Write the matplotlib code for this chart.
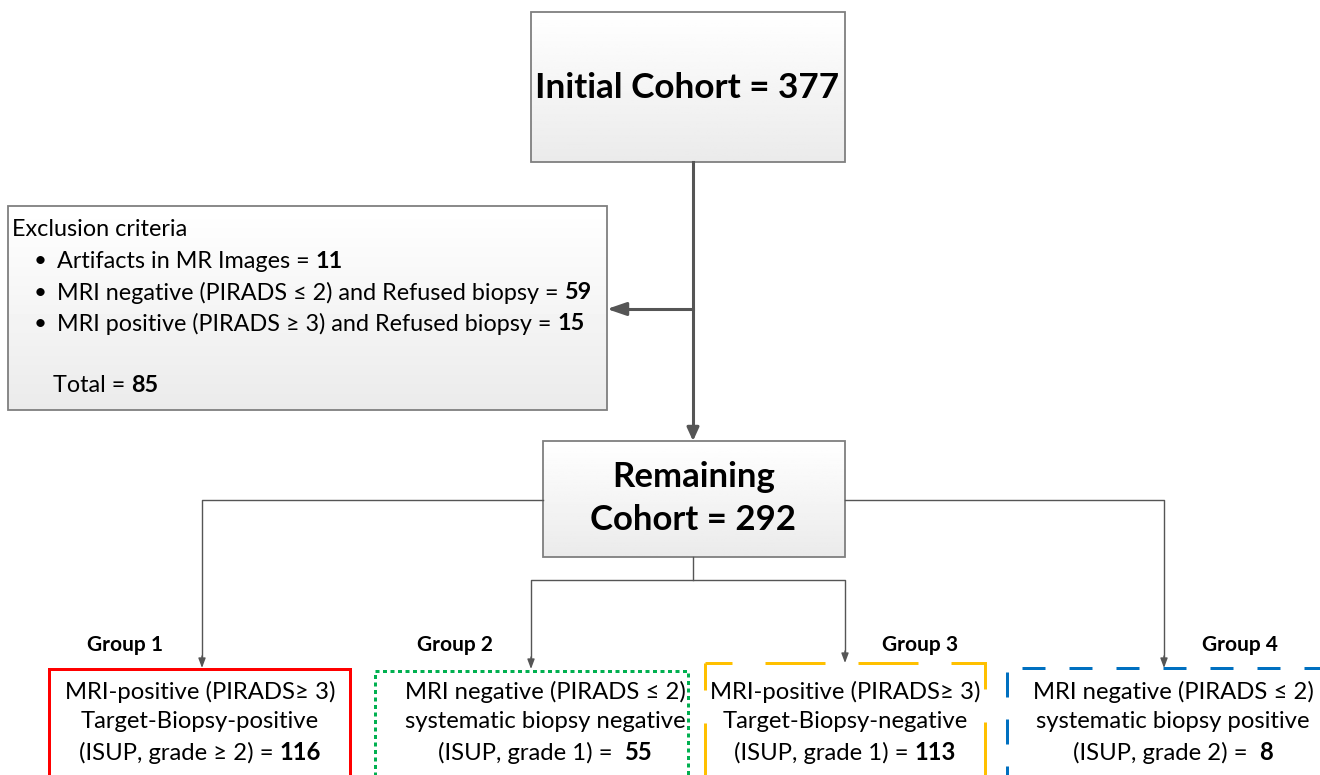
import matplotlib.pyplot as plt
import numpy as np
from matplotlib.patches import Rectangle, FancyArrowPatch

plt.rcParams['font.family'] = ['Lato', 'DejaVu Sans']
plt.rcParams['lines.scale_dashes'] = False

initial_n = 377
excluded_items = [("Artifacts in MR Images = ", 11),
                  ("MRI negative (PIRADS \u2264 2) and Refused biopsy = ", 59),
                  ("MRI positive (PIRADS \u2265 3) and Refused biopsy = ", 15)]
excluded_total = 85
remaining_n = 292
group_names = ["Group 1", "Group 2", "Group 3", "Group 4"]
group_lines = [
    ["MRI-positive (PIRADS\u2265 3)", "Target-Biopsy-positive", "(ISUP, grade \u2265 2) = "],
    ["MRI negative (PIRADS \u2264 2)", "systematic biopsy negative", "(ISUP, grade 1) =  "],
    ["MRI-positive (PIRADS\u2265 3)", "Target-Biopsy-negative", "(ISUP, grade 1) = "],
    ["MRI negative (PIRADS \u2264 2)", "systematic biopsy positive", "(ISUP, grade 2) =  "],
]
group_counts = [116, 55, 113, 8]
group_colors = ["#ff0000", "#00b050", "#ffc000", "#0070c0"]

LINE = "#555555"
PX = 72 / 100  # points per pixel


def gray_box(ax, x0, y0, x1, y1):
    grad = np.linspace(1.0, 0.92, 64).reshape(-1, 1)
    im = ax.imshow(grad, cmap="gray", vmin=0, vmax=1, extent=(x0, x1, y1, y0),
                   aspect="auto", zorder=1)
    rect = Rectangle((x0, y0), x1 - x0, y1 - y0, fill=False, ec="#7f7f7f", lw=1.3, zorder=2)
    ax.add_patch(rect)
    im.set_clip_path(rect)


def arrow(ax, p0, p1, lw=1.0, length=8, width=6):
    style = f"-|>,head_length={length * PX:.2f},head_width={width * PX / 2:.2f}"
    ax.add_patch(FancyArrowPatch(p0, p1, arrowstyle=style, color=LINE, lw=lw,
                                 mutation_scale=1, shrinkA=0, shrinkB=0, zorder=3))


def bold_tail(ax, x, y, pre, num, size, ha="center"):
    # normal text followed by a bold number on one line
    t1 = ax.text(0, y, pre, fontsize=size, va="center", ha="left", zorder=4)
    t2 = ax.text(0, y, str(num), fontsize=size, va="center", ha="left",
                 fontweight="bold", zorder=4)
    r = ax.figure.canvas.get_renderer()
    w1 = t1.get_window_extent(r).width
    w2 = t2.get_window_extent(r).width
    start = x - (w1 + w2) / 2 if ha == "center" else x
    t1.set_x(start)
    t2.set_x(start + w1)


def dash(on, off, offset):
    return (offset * PX, (on * PX, off * PX))


fig = plt.figure(figsize=(13.2, 7.75), dpi=100)
ax = fig.add_axes([0, 0, 1, 1])
ax.set_xlim(0, 1320)
ax.set_ylim(775, 0)
ax.axis("off")
fig.canvas.draw()

# initial cohort
gray_box(ax, 531, 12, 845, 162)
ax.text(687, 88, f"Initial Cohort = {initial_n}", fontsize=25.3, fontweight="bold",
        ha="center", va="center", zorder=4)

# exclusion box
gray_box(ax, 8, 206, 607, 410)
ax.text(12, 230, "Exclusion criteria", fontsize=16.8, va="center", zorder=4)
for i, (label, n) in enumerate(excluded_items):
    y = 261 + i * 31.5
    ax.text(40, y, "\u2022", fontsize=16, va="center", ha="center", zorder=4)
    bold_tail(ax, 57, y, label, n, 16.8, ha="left")
bold_tail(ax, 53, 385, "Total = ", excluded_total, 16.8, ha="left")

# main trunk
ax.plot([693, 693], [162, 432], color=LINE, lw=2.2, zorder=3)
arrow(ax, (693, 428), (693, 441), lw=2.2, length=11, width=10)
ax.plot([693, 620], [309, 309], color=LINE, lw=2.2, zorder=3)
arrow(ax, (625, 309), (607, 309), lw=2.2, length=16, width=11)

# remaining cohort
gray_box(ax, 543, 441, 845, 557)
ax.text(694, 477, "Remaining", fontsize=25, fontweight="bold", ha="center", va="center", zorder=4)
ax.text(693, 520, f"Cohort = {remaining_n}", fontsize=25, fontweight="bold",
        ha="center", va="center", zorder=4)

# branches
ax.plot([543, 202, 202], [500, 500, 658], color=LINE, lw=1.0, zorder=3)
arrow(ax, (202, 656), (202, 668))
ax.plot([845, 1164, 1164], [500, 500, 658], color=LINE, lw=1.0, zorder=3)
arrow(ax, (1164, 656), (1164, 668))
ax.plot([693, 693], [557, 580], color=LINE, lw=1.0, zorder=3)
ax.plot([531, 531, 845, 845], [658, 580, 580, 652], color=LINE, lw=1.0, zorder=3)
arrow(ax, (531, 657), (531, 669))
arrow(ax, (845, 651), (845, 663))

# group boxes (open at the bottom, running off the figure)
BW = 3 * PX
bottom = 800
# group 1: solid red
ax.plot([49, 49, 350, 350], [bottom, 669, 669, bottom], color=group_colors[0], lw=BW,
        solid_joinstyle="miter", zorder=2)
# group 2: green dots
ax.plot([375, 375, 688, 688], [bottom, 671, 671, bottom], color=group_colors[1], lw=BW,
        linestyle=dash(4, 3.5, 0), zorder=2)
# group 3: long orange dashes, laid out from the top-left corner
ax.plot([705, 705], [663, bottom], color=group_colors[2], lw=BW,
        linestyle=dash(60, 33, 33), zorder=2)
ax.plot([705, 985, 985], [663, 663, bottom], color=group_colors[2], lw=BW,
        linestyle=dash(60, 33, 33), solid_joinstyle="miter", dash_joinstyle="miter", zorder=2)
# group 4: blue dashes
ax.plot([1007, 1007], [668, bottom], color=group_colors[3], lw=BW,
        linestyle=dash(25, 22, 43), zorder=2)
ax.plot([1007, 1330], [668, 668], color=group_colors[3], lw=BW,
        linestyle=dash(23, 24, 32), zorder=2)

label_x = [125, 455, 920, 1240]
text_x = [200, 545, 845, 1173]
for i in range(4):
    ax.text(label_x[i], 645, group_names[i], fontsize=15, fontweight="bold",
            ha="center", va="center", zorder=4)
    ax.text(text_x[i], 692, group_lines[i][0], fontsize=17.2, ha="center", va="center", zorder=4)
    ax.text(text_x[i], 722, group_lines[i][1], fontsize=17.2, ha="center", va="center", zorder=4)
    bold_tail(ax, text_x[i], 753, group_lines[i][2], group_counts[i], 17.2)

fig.savefig("out.png", dpi=100)
